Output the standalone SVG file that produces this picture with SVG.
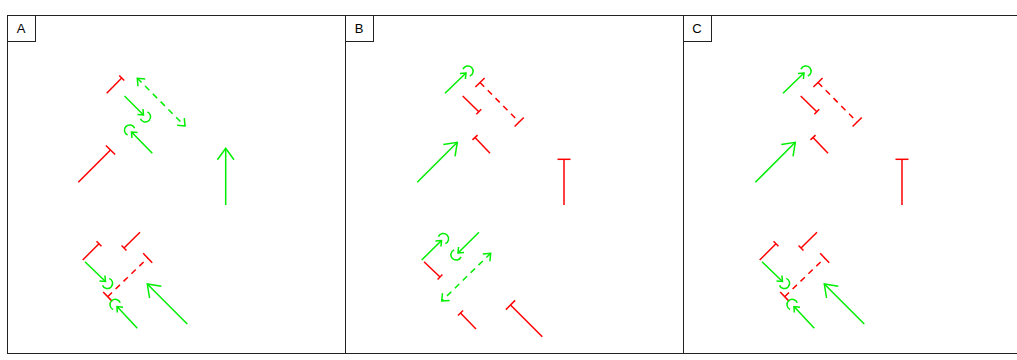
<svg xmlns="http://www.w3.org/2000/svg" width="1017" height="360" viewBox="0 0 1017 360">
<style>
.frame{fill:none;stroke:#222;stroke-width:1}
.lbl{font-family:"Liberation Sans",Arial,sans-serif;font-size:13px;fill:#000;text-anchor:middle}
.g{fill:none;stroke:#00ee00;stroke-width:1.5}
.r{fill:none;stroke:#ff0000;stroke-width:1.5}
.d{stroke-dasharray:6,5}
.mg{fill:none;stroke:#00ee00;stroke-width:1.5}
.mr{fill:none;stroke:#ff0000;stroke-width:1.5}
</style>
<defs>
<marker id="veeL" markerUnits="userSpaceOnUse" viewBox="-20 -20 40 40" markerWidth="40" markerHeight="40" refX="0" refY="0" orient="auto-start-reverse"><path class="mg" d="M-11.5,-8.3 L0,0 L-11.5,8.3"/></marker>
<marker id="veeM" markerUnits="userSpaceOnUse" viewBox="-20 -20 40 40" markerWidth="40" markerHeight="40" refX="0" refY="0" orient="auto-start-reverse"><path class="mg" d="M-6.1,-5.1 L0,0 L-6.1,5.1"/></marker>
<marker id="curve" markerUnits="userSpaceOnUse" viewBox="-20 -20 40 40" markerWidth="40" markerHeight="40" refX="0" refY="0" orient="auto-start-reverse"><path class="mg" d="M-4.6,-3.9 L0,0 L-4.6,3.9 M0.5,4.9 A5.3,5.3 0 1 0 0.5,-4.9"/></marker>
<marker id="teeS" markerUnits="userSpaceOnUse" viewBox="-20 -20 40 40" markerWidth="40" markerHeight="40" refX="0" refY="0" orient="auto-start-reverse"><path class="mr" d="M0,-3.5 L0,3.5"/></marker>
<marker id="teeL" markerUnits="userSpaceOnUse" viewBox="-20 -20 40 40" markerWidth="40" markerHeight="40" refX="0" refY="0" orient="auto-start-reverse"><path class="mr" d="M0,-6.5 L0,6.5"/></marker>
</defs>
<g id="frame">
<line class="frame" x1="7" y1="15.5" x2="1017" y2="15.5"/>
<line class="frame" x1="7" y1="353.5" x2="1017" y2="353.5"/>
<line class="frame" x1="7.5" y1="15" x2="7.5" y2="354"/>
<line class="frame" x1="345.5" y1="15" x2="345.5" y2="354"/>
<line class="frame" x1="683.5" y1="15" x2="683.5" y2="354"/>
</g>
<g id="labelA"><rect class="frame" x="7.5" y="15.5" width="28" height="26"/><text class="lbl" x="21" y="33">A</text></g>
<g id="labelB"><rect class="frame" x="345.5" y="15.5" width="28" height="26"/><text class="lbl" x="359" y="33">B</text></g>
<g id="labelC"><rect class="frame" x="683.5" y="15.5" width="28" height="26"/><text class="lbl" x="697" y="33">C</text></g>
<g id="connectors">
<g id="A-top">
<line class="r" x1="106.7" y1="93.3" x2="121.7" y2="78" marker-end="url(#teeS)"/>
<line class="g d" x1="137.3" y1="78.3" x2="185" y2="126" marker-start="url(#veeM)" marker-end="url(#veeM)"/>
<line class="g" x1="124.5" y1="96" x2="143.5" y2="115" marker-end="url(#curve)"/>
<line class="g" x1="152.3" y1="153.3" x2="131.5" y2="132" marker-end="url(#curve)"/>
<line class="r" x1="78.3" y1="182.3" x2="110.5" y2="150" marker-end="url(#teeL)"/>
<line class="g" x1="225.7" y1="205" x2="225.7" y2="148.3" marker-end="url(#veeL)"/>
</g>
<g id="A-bottom">
<line class="r" x1="82.7" y1="260" x2="99" y2="243.8" marker-end="url(#teeS)"/>
<line class="r" x1="140" y1="232.3" x2="124" y2="248" marker-end="url(#teeS)"/>
<line class="r d" x1="107.7" y1="296.7" x2="147.7" y2="258" marker-start="url(#teeL)" marker-end="url(#teeL)"/>
<line class="g" x1="85" y1="261.7" x2="105.5" y2="281.5" marker-end="url(#curve)"/>
<line class="g" x1="137.3" y1="328.3" x2="117" y2="306.5" marker-end="url(#curve)"/>
<line class="g" x1="187.3" y1="324" x2="147.3" y2="284" marker-end="url(#veeL)"/>
</g>
<g id="B-top">
<line class="g" x1="445" y1="93.3" x2="466" y2="73" marker-end="url(#curve)"/>
<line class="r d" x1="480" y1="82.5" x2="519.2" y2="122" marker-start="url(#teeL)" marker-end="url(#teeL)"/>
<line class="r" x1="462.7" y1="96" x2="478.8" y2="111.7" marker-end="url(#teeS)"/>
<line class="g" x1="417.3" y1="182.3" x2="457.3" y2="142.3" marker-end="url(#veeL)"/>
<line class="r" x1="490" y1="153.3" x2="475" y2="137.5" marker-end="url(#teeS)"/>
<line class="r" x1="564" y1="205" x2="564" y2="159.3" marker-end="url(#teeL)"/>
</g>
<g id="B-bottom">
<line class="g" x1="421.7" y1="260" x2="441.5" y2="240.5" marker-end="url(#curve)"/>
<line class="r" x1="424" y1="261.7" x2="440" y2="277" marker-end="url(#teeS)"/>
<line class="g" x1="479" y1="232.3" x2="458" y2="253" marker-end="url(#curve)"/>
<line class="g d" x1="490.7" y1="253.3" x2="441.7" y2="301" marker-start="url(#veeM)" marker-end="url(#veeM)"/>
<line class="r" x1="476" y1="329" x2="460.5" y2="313" marker-end="url(#teeS)"/>
<line class="r" x1="542.3" y1="336.7" x2="510.5" y2="305" marker-end="url(#teeL)"/>
</g>
<g id="C-top" transform="translate(338,0)">
<line class="g" x1="445" y1="93.3" x2="466" y2="73" marker-end="url(#curve)"/>
<line class="r d" x1="480" y1="82.5" x2="519.2" y2="122" marker-start="url(#teeL)" marker-end="url(#teeL)"/>
<line class="r" x1="462.7" y1="96" x2="478.8" y2="111.7" marker-end="url(#teeS)"/>
<line class="g" x1="417.3" y1="182.3" x2="457.3" y2="142.3" marker-end="url(#veeL)"/>
<line class="r" x1="490" y1="153.3" x2="475" y2="137.5" marker-end="url(#teeS)"/>
<line class="r" x1="564" y1="205" x2="564" y2="159.3" marker-end="url(#teeL)"/>
</g>
<g id="C-bottom" transform="translate(677,0)">
<line class="r" x1="82.7" y1="260" x2="99" y2="243.8" marker-end="url(#teeS)"/>
<line class="r" x1="140" y1="232.3" x2="124" y2="248" marker-end="url(#teeS)"/>
<line class="r d" x1="107.7" y1="296.7" x2="147.7" y2="258" marker-start="url(#teeL)" marker-end="url(#teeL)"/>
<line class="g" x1="85" y1="261.7" x2="105.5" y2="281.5" marker-end="url(#curve)"/>
<line class="g" x1="137.3" y1="328.3" x2="117" y2="306.5" marker-end="url(#curve)"/>
<line class="g" x1="187.3" y1="324" x2="147.3" y2="284" marker-end="url(#veeL)"/>
</g>
</g>
</svg>
